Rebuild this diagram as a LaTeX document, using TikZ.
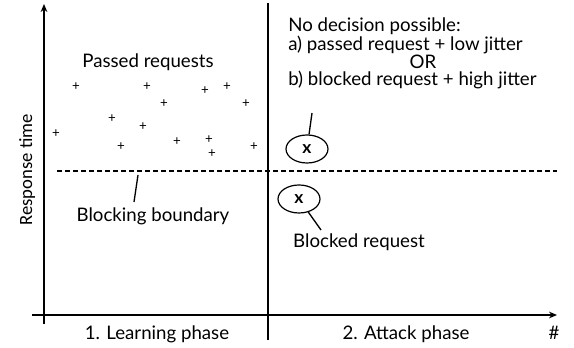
\documentclass[tikz,border=0pt]{standalone}
\usepackage{fontspec}
\setmainfont{Lato}
\newfontfamily\axisfont{Carlito}
\usetikzlibrary{shapes.geometric,arrows.meta,calc}
\tikzset{
  lbl/.style={font=\fontsize{14}{16}\selectfont, inner sep=0pt},
  req/.style={font=\fontsize{10}{10}\selectfont, inner sep=0pt},
  probe/.style={draw, ellipse, line width=0.9pt, minimum width=31.5pt, minimum height=21pt, inner sep=0pt, font=\bfseries\fontsize{13}{13}\selectfont},
  axis/.style={line width=1.5pt},
  callout/.style={line width=1pt},
}
\begin{document}
\begin{tikzpicture}[x=0.75pt,y=-0.75pt]
\useasboundingbox (0,0) rectangle (574,348);
\coordinate (xs) at (32,315);
\coordinate (xe) at (557,315);
\coordinate (ys) at (44,324);
\coordinate (ye) at (44,4);
\coordinate (dt) at (268,3);
\coordinate (db) at (268,340);
\coordinate (bl) at (57,171);
\coordinate (br) at (557,171);
\draw[axis,-{Stealth[length=6pt,width=5pt]}] (xs) -- (xe);
\draw[axis,-{Stealth[length=6pt,width=5pt]}] (ys) -- (ye);
\draw[axis] (dt) -- (db);
\draw[line width=1.5pt,dash pattern=on 3.5pt off 2.5pt] (bl) -- (br);
\foreach \px/\py [count=\i] in {76/87,147/87,205/91,227/87,164/104,246/104,112/119,143/127,56/134,121/147,177/142,209/140,212/154,254/147}{
  \node[req] (p\i) at (\px,\py) {+};
}
\node[lbl,anchor=base] (passed) at (148,68) {Passed requests};
\node[lbl,anchor=base] (bound) at (153,222) {Blocking boundary};
\node[lbl,anchor=base] (learn) at (157,340) {1. Learning phase};
\node[lbl,anchor=base] (attack) at (406,340) {2. Attack phase};
\node[lbl,anchor=base] (count) at (554,340) {\#};
\node[lbl,font=\axisfont\fontsize{14}{16}\selectfont,anchor=base,rotate=90] (resp) at (32,170) {Response time};
\node[lbl,anchor=base west] (nd) at (288,32) {No decision possible:};
\node[lbl,anchor=base west] (opta) at (288,50.5) {a) passed request + low jitter};
\node[lbl,anchor=base] (or) at (423,68.5) {OR};
\node[lbl,anchor=base west] (optb) at (288,86) {b) blocked request + high jitter};
\node[probe] (up) at (307,149) {x};
\node[probe] (down) at (299,199) {x};
\node[lbl,anchor=base] (blocked) at (359,248) {Blocked request};
\coordinate (uptip) at (312,113);
\coordinate (blktip) at (321,230);
\coordinate (bbtip) at (138,175);
\draw[callout] (up) -- (uptip);
\draw[callout] (down) -- (blktip);
\draw[callout] (bbtip) -- ($(bound.north)+(-19,-6)$);
\end{tikzpicture}
\end{document}
